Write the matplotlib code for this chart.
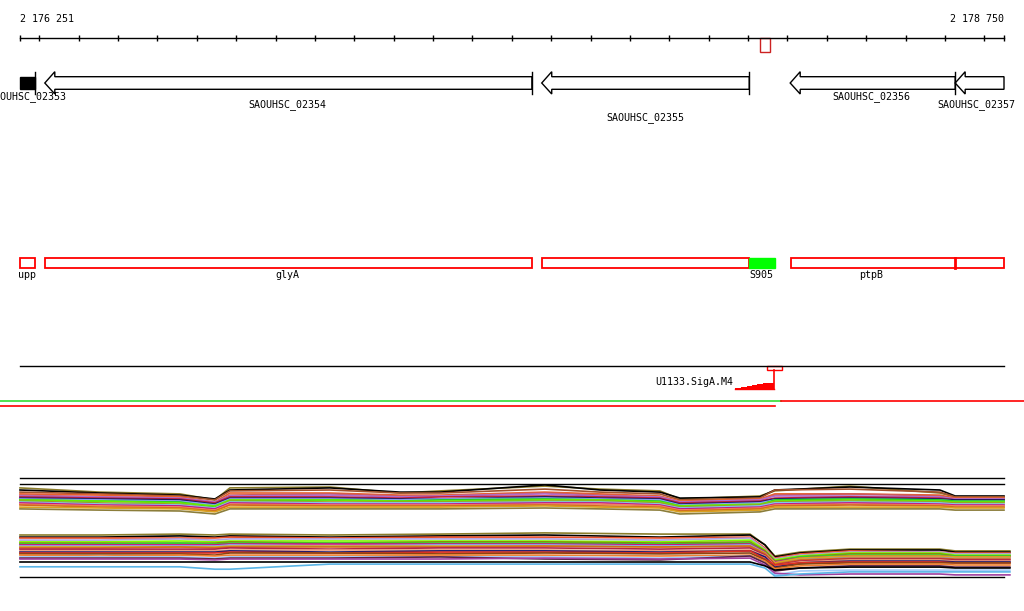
import numpy as np
import matplotlib.pyplot as plt
from matplotlib.patches import Rectangle

# Genome window shown in the browser
G0 = 2176251
G1 = 2178750
PX_LEFT = 20
PX_RIGHT = 1004
BP_PER_PX = (G1 - G0) / (PX_RIGHT - PX_LEFT)
XLIM = (G0 - PX_LEFT * BP_PER_PX, G0 + (1024 - PX_LEFT) * BP_PER_PX)

FONT = dict(family="DejaVu Sans Mono", fontsize=7.2)

# Annotated genes (all on reverse strand): name, start, end, label y
gene_names = ["SAOUHSC_02353", "SAOUHSC_02354", "SAOUHSC_02355", "SAOUHSC_02356", "SAOUHSC_02357"]
gene_starts = [2176251, 2176314, 2177576, 2178207, 2178626]
gene_ends = [2176288, 2177551, 2178103, 2178626, 2178750]
gene_label_x = [2176269, 2176930, 2177838, 2178412, 2178681]
gene_label_y = [97, 105, 118, 97, 105]

# Transcribed regions
tx_names = ["upp", "glyA", "", "ptpB"]
tx_starts = [2176251, 2176314, 2177577, 2178209]
tx_ends = [2176288, 2177551, 2178102, 2178750]
tx_label_x = [2176269, 2176929, 2178135, 2178412]
ptpb_split = 2178626
srna_name = "S905"
srna_start, srna_end = 2178102, 2178168

# Promoter motif hit
motif_name = "U1133.SigA.M4"
motif_box = (2178149, 2178186)
motif_pos = 2178167
motif_steps = [2178067, 2178081, 2178097, 2178109, 2178122, 2178137, 2178152, 2178167]
motif_scores = [1.0, 2.0, 3.3, 4.3, 5.0, 6.3, 6.3]
marker_box = (2178131, 2178156)

# Expression profiles, top panel (log2 signal)
top_x = [2176251, 2176454, 2176657, 2176746, 2176784, 2177038, 2177216, 2177318, 2177584,
         2177724, 2177876, 2177927, 2178130, 2178168, 2178359, 2178587, 2178626, 2178750]
top_profiles = [
    ("#8b7d2b", [8.7, 7.3, 6.7, 4.7, 8.7, 9.0, 7.0, 7.7, 9.3, 8.3, 7.7, 5.0, 6.0, 7.7, 9.3, 7.0, 5.7, 5.7]),
    ("#000000", [8.0, 7.0, 6.3, 5.0, 8.0, 8.7, 7.3, 7.3, 9.7, 8.0, 7.3, 5.3, 5.7, 8.0, 9.0, 8.0, 6.0, 6.0]),
    ("#a0522d", [7.3, 6.7, 6.0, 4.7, 7.7, 8.0, 7.0, 7.0, 8.3, 7.3, 6.7, 4.7, 5.3, 8.0, 8.3, 7.3, 5.7, 5.7]),
    ("#e8602c", [6.7, 6.3, 5.7, 4.0, 7.0, 7.0, 6.3, 6.3, 7.3, 6.7, 6.0, 4.3, 5.0, 6.7, 6.7, 6.3, 5.3, 5.3]),
    ("#cd5c5c", [6.3, 5.7, 5.3, 3.7, 6.3, 6.7, 6.0, 6.0, 7.0, 6.3, 5.7, 4.0, 4.7, 6.3, 6.7, 6.0, 5.0, 5.0]),
    ("#b06cd0", [6.0, 5.7, 5.3, 4.0, 6.0, 6.3, 5.7, 6.0, 6.7, 6.0, 5.7, 4.0, 4.7, 6.0, 6.0, 5.7, 5.0, 5.0]),
    ("#c02040", [5.7, 5.3, 5.0, 3.7, 5.7, 5.7, 5.3, 5.7, 6.0, 5.7, 5.3, 3.7, 4.3, 5.3, 5.7, 5.3, 4.7, 4.7]),
    ("#1a1a60", [5.3, 5.0, 4.7, 3.3, 5.3, 5.3, 5.0, 5.0, 5.7, 5.3, 5.0, 3.3, 4.0, 5.0, 5.3, 5.0, 4.7, 4.7]),
    ("#87a0f0", [5.0, 4.7, 4.3, 3.0, 5.0, 5.0, 4.7, 5.0, 5.3, 5.0, 4.7, 3.0, 3.7, 4.7, 5.0, 4.7, 4.3, 4.3]),
    ("#22cc22", [4.7, 4.3, 4.0, 2.3, 4.3, 4.7, 4.3, 4.7, 5.0, 4.7, 4.3, 2.7, 3.0, 4.7, 5.0, 4.7, 4.3, 4.3]),
    ("#66ee00", [4.7, 4.3, 3.7, 2.7, 4.7, 4.7, 4.3, 4.3, 4.7, 4.7, 4.0, 2.7, 3.3, 4.3, 4.7, 4.3, 4.0, 4.0]),
    ("#9aa020", [4.3, 3.7, 3.3, 2.0, 4.3, 4.0, 4.0, 4.0, 4.3, 4.3, 3.7, 2.3, 3.0, 4.0, 4.3, 4.0, 3.7, 3.7]),
    ("#7ec8f0", [4.0, 3.3, 3.0, 2.0, 4.0, 3.7, 3.7, 3.7, 4.0, 4.0, 3.3, 2.0, 2.7, 3.7, 4.0, 3.7, 3.3, 3.3]),
    ("#c0188a", [3.7, 3.0, 2.7, 1.7, 3.7, 3.3, 3.3, 3.3, 3.7, 3.7, 3.0, 1.7, 2.3, 3.3, 3.7, 3.3, 3.0, 3.0]),
    ("#f08060", [3.3, 2.7, 2.3, 1.3, 3.3, 3.0, 3.0, 3.0, 3.3, 3.3, 2.7, 1.3, 2.0, 3.0, 3.3, 3.0, 2.7, 2.7]),
    ("#d2691e", [3.0, 2.3, 2.0, 1.0, 3.0, 2.7, 2.7, 2.7, 3.0, 2.7, 2.3, 1.0, 1.7, 2.7, 3.0, 2.7, 2.3, 2.3]),
    ("#d8a020", [2.3, 2.0, 1.7, 0.7, 2.3, 2.3, 2.3, 2.3, 2.7, 2.3, 2.0, 0.7, 1.3, 2.3, 2.3, 2.3, 2.0, 2.0]),
    ("#8b7d3a", [1.7, 1.3, 1.0, 0.0, 1.7, 1.7, 1.7, 1.7, 2.0, 1.7, 1.3, 0.0, 0.7, 1.7, 1.7, 1.7, 1.3, 1.3]),
]

# Expression profiles, bottom panel (log2 signal)
bot_x = [2176251, 2176454, 2176657, 2176746, 2176784, 2177038, 2177318, 2177584, 2177876,
         2178105, 2178143, 2178168, 2178232, 2178359, 2178587, 2178626, 2178765]
bot_profiles = [
    ("#8b7d2b", [14.0, 14.0, 14.3, 14.0, 14.3, 14.0, 14.3, 14.7, 14.3, 14.3, 10.7, 7.0, 8.3, 9.3, 9.3, 8.7, 8.7]),
    ("#000000", [13.3, 13.3, 13.7, 13.3, 13.7, 13.3, 13.7, 14.0, 13.3, 14.0, 10.7, 6.7, 8.0, 9.0, 9.0, 8.3, 8.3]),
    ("#e8502a", [13.0, 13.0, 13.0, 13.0, 13.3, 13.0, 13.3, 13.3, 13.0, 13.3, 9.7, 6.3, 7.7, 8.7, 8.3, 8.0, 8.0]),
    ("#b0a0e0", [12.3, 12.3, 12.7, 12.3, 12.7, 12.7, 12.7, 12.7, 12.3, 13.0, 9.3, 6.0, 7.3, 8.3, 8.3, 7.7, 7.7]),
    ("#7cfc00", [11.7, 11.7, 12.0, 11.7, 12.0, 12.0, 12.0, 12.0, 11.7, 12.3, 9.0, 5.7, 7.0, 8.0, 8.0, 7.3, 7.3]),
    ("#8b8b00", [11.3, 11.3, 11.3, 11.3, 11.7, 11.3, 11.7, 11.7, 11.3, 11.7, 8.7, 5.3, 6.7, 7.7, 7.7, 7.0, 7.0]),
    ("#32cd32", [11.0, 11.0, 11.3, 11.0, 11.3, 11.3, 11.3, 11.3, 11.0, 11.3, 8.3, 5.0, 6.7, 7.3, 7.3, 7.0, 7.0]),
    ("#c71585", [10.7, 10.7, 10.7, 10.7, 11.0, 11.0, 11.0, 11.0, 10.7, 11.0, 8.3, 5.0, 6.3, 7.0, 7.0, 6.7, 6.7]),
    ("#87a8f0", [10.3, 10.3, 10.3, 10.3, 10.7, 10.3, 10.7, 10.7, 10.3, 10.7, 8.0, 4.7, 6.0, 6.7, 6.7, 6.3, 6.3]),
    ("#daa520", [10.0, 10.0, 10.0, 10.0, 10.3, 10.3, 10.3, 10.3, 10.0, 10.3, 8.0, 4.7, 6.3, 7.0, 7.0, 6.7, 6.7]),
    ("#d2691e", [9.7, 9.7, 10.0, 9.7, 10.0, 10.0, 10.0, 10.3, 10.0, 10.3, 7.7, 4.3, 5.7, 6.3, 6.3, 6.0, 6.0]),
    ("#b22244", [9.3, 9.3, 9.3, 9.3, 9.7, 9.3, 9.7, 9.7, 9.3, 9.7, 7.3, 4.0, 5.3, 6.0, 6.0, 5.7, 5.7]),
    ("#e9967a", [8.7, 8.7, 8.7, 8.7, 9.0, 9.0, 9.0, 9.0, 8.7, 9.0, 7.0, 3.7, 5.0, 5.7, 5.7, 5.3, 5.3]),
    ("#191970", [8.3, 8.3, 8.3, 8.3, 8.7, 8.3, 8.7, 8.7, 8.3, 8.7, 6.7, 3.3, 4.7, 5.3, 5.3, 5.0, 5.0]),
    ("#e03020", [8.0, 8.0, 8.0, 8.0, 8.3, 8.0, 8.3, 8.3, 8.0, 8.7, 6.0, 4.0, 4.7, 5.0, 5.0, 4.7, 4.7]),
    ("#8b4513", [7.7, 7.7, 7.7, 7.3, 8.0, 8.0, 7.7, 8.0, 7.7, 8.0, 5.7, 3.0, 4.3, 4.7, 4.7, 4.7, 4.7]),
    ("#f08030", [7.3, 7.0, 7.3, 7.0, 7.3, 7.3, 7.3, 7.3, 7.0, 7.3, 5.3, 2.7, 3.7, 4.3, 4.3, 4.0, 4.0]),
    ("#a0c8f8", [6.7, 6.7, 6.7, 6.3, 6.7, 6.7, 6.7, 6.7, 6.3, 7.0, 4.7, 0.7, 2.0, 2.3, 2.3, 2.3, 2.3]),
    ("#5a2040", [6.3, 6.3, 6.3, 6.0, 6.3, 6.3, 6.7, 6.0, 5.7, 7.0, 4.7, 2.0, 3.0, 3.7, 3.7, 3.3, 3.3]),
    ("#a040a0", [6.0, 6.0, 6.0, 5.7, 6.0, 6.0, 6.0, 6.3, 6.0, 6.3, 4.0, 1.3, 0.7, 1.0, 1.0, 0.7, 0.7]),
    ("#000000", [5.0, 5.0, 5.0, 5.0, 5.0, 5.0, 5.0, 5.0, 5.0, 5.0, 3.7, 2.3, 3.0, 3.3, 3.3, 3.0, 3.0]),
    ("#5ab4e6", [3.4, 3.4, 3.4, 2.6, 2.6, 4.3, 4.3, 4.3, 4.3, 4.3, 3.0, 0.3, 1.0, 1.7, 1.7, 1.7, 1.7]),
]

fig = plt.figure(figsize=(10.24, 6.11), dpi=100)
ax = fig.add_axes([0, 0, 1, 1])
ax.set_xlim(*XLIM)
ax.set_ylim(611, 0)
ax.axis("off")

# Coordinate ruler
ax.plot([G0, G1], [38, 38], color="black", lw=1)
ticks = [G0] + list(range(2176300, G1, 100)) + [G1]
ax.vlines(ticks, 35, 41, color="black", lw=1)
ax.text(G0, 19, "2 176 251", ha="left", va="center", **FONT)
ax.text(G1, 19, "2 178 750", ha="right", va="center", **FONT)
ax.add_patch(Rectangle((marker_box[0], 38.3), marker_box[1] - marker_box[0], 14,
                       fill=False, edgecolor="#cc2222", lw=1))

# Gene arrows
head = 10 * BP_PER_PX
for i, name in enumerate(gene_names):
    s, e = gene_starts[i], gene_ends[i]
    if i == 0:
        ax.add_patch(Rectangle((s, 76.7), e - s, 12.6, facecolor="black", edgecolor="black", lw=1))
        ax.plot([e, e], [71.7, 94], color="black", lw=1)
    else:
        xs = [s, s + head, s + head, e, e, s + head, s + head, s]
        ys = [83, 71.7, 76.7, 76.7, 89.3, 89.3, 94, 83]
        ax.fill(xs, ys, facecolor="white", edgecolor="black", lw=1)
        if e < G1:
            ax.plot([e, e], [71.7, 94], color="black", lw=1)
    ax.text(gene_label_x[i], gene_label_y[i], name, ha="center", va="center", **FONT)

# Transcripts
for i, name in enumerate(tx_names):
    s, e = tx_starts[i], tx_ends[i]
    ax.add_patch(Rectangle((s, 258.3), e - s, 10, fill=False, edgecolor="#ff0000", lw=1.3))
    if name:
        ax.text(tx_label_x[i], 275.5, name, ha="center", va="center", **FONT)
ax.plot([ptpb_split, ptpb_split], [258.3, 268.3], color="#ff0000", lw=2)
ax.add_patch(Rectangle((srna_start, 258.3), srna_end - srna_start, 10,
                       facecolor="#00ff00", edgecolor="#00ff00", lw=1))
ax.text(tx_label_x[2], 275.5, srna_name, ha="center", va="center", **FONT)

# Promoter track
ax.plot([G0, G1], [366, 366], color="black", lw=1)
ax.add_patch(Rectangle((motif_box[0], 366), motif_box[1] - motif_box[0], 4.3,
                       fill=False, edgecolor="#ff0000", lw=1))
ax.plot([motif_pos, motif_pos], [370.3, 389.3], color="#ff0000", lw=1.2)
tops = [389.3 - v for v in motif_scores] + [389.3 - motif_scores[-1]]
ax.fill_between(motif_steps, 389.3, tops, step="post", color="#ff0000", lw=0)
ax.plot([motif_steps[0], motif_pos], [389.3, 389.3], color="#ff0000", lw=1)
ax.text(motif_steps[0] - 2 * BP_PER_PX, 382, motif_name, ha="right", va="center", **FONT)

# Strand lines
ax.plot([XLIM[0], 2178184], [401.3, 401.3], color="#33dd33", lw=1.2)
ax.plot([2178184, XLIM[1]], [401.3, 401.3], color="#ff0000", lw=1.2)
ax.plot([XLIM[0], 2178168], [406.3, 406.3], color="#ff0000", lw=1.2)

# Expression panels
ax_top = fig.add_axes([0, (611 - 520) / 611, 1, 46 / 611])
ax_top.set_xlim(*XLIM)
ax_top.set_ylim(-2, 46 / 3 - 2)
ax_top.axis("off")
ax_top.plot([G0, G1], [12, 12], color="black", lw=1)
ax_top.plot([G0, G1], [10, 10], color="black", lw=1)
for color, vals in top_profiles:
    ax_top.plot(top_x, vals, color=color, lw=1.2)

ax_bot = fig.add_axes([0, (611 - 582) / 611, 1, 54 / 611])
ax_bot.set_xlim(*XLIM)
ax_bot.set_ylim(-5 / 3, 54 / 3 - 5 / 3)
ax_bot.axis("off")
ax_bot.plot([G0, G1], [0, 0], color="black", lw=1)
for color, vals in bot_profiles:
    ax_bot.plot(bot_x, vals, color=color, lw=1.2)

fig.savefig("out.png", dpi=100)
